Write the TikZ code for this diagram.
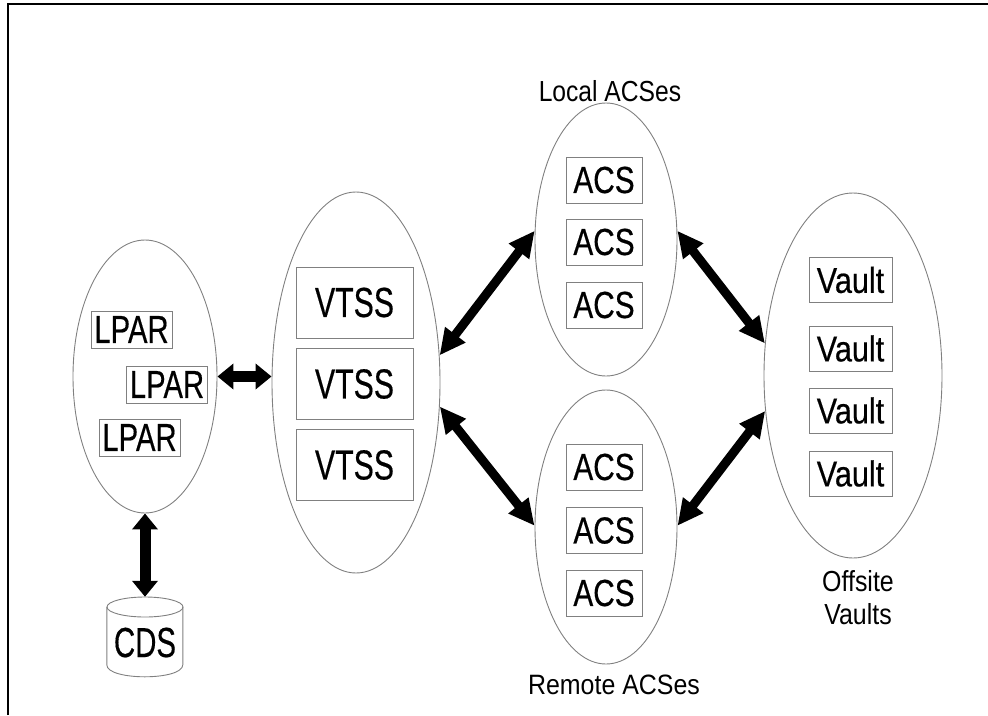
\documentclass[tikz,border=0pt]{standalone}
\usepackage{graphicx}
\usepackage{fontspec}
\setmainfont{Liberation Sans}
\newfontfamily\heavyfont[FakeBold=0.5]{Liberation Sans}
\usetikzlibrary{arrows.meta,shapes.geometric}
\newcommand{\sqtxt}[3]{\scalebox{#2}[1]{\fontsize{#1}{#1}\selectfont #3}}
\newcommand{\sqbox}[3]{\scalebox{#2}[1]{\heavyfont\fontsize{#1}{#1}\selectfont #3}}
\begin{document}
\begin{tikzpicture}[x=1pt,y=-1pt,
  ell/.style={ellipse, draw=gray, line width=0.9pt, inner sep=0pt},
  box/.style={rectangle, draw=gray, line width=0.9pt, inner sep=0pt},
  lparbox/.style={box, minimum width=81pt, minimum height=37pt},
  vtssbox/.style={box, minimum width=117pt, minimum height=71pt},
  acsbox/.style={box, minimum width=76pt, minimum height=46pt},
  vaultbox/.style={box, minimum width=83pt, minimum height=45pt},
  fat/.style={line width=11pt, {Triangle[length=16pt,width=25pt]}-{Triangle[length=16pt,width=25pt]}},
  diag/.style={line width=9pt, {Triangle[length=26pt,width=24pt]}-{Triangle[length=26pt,width=24pt]}},
  lbl/.style={inner sep=0pt}
]
\useasboundingbox (0,0) rectangle (988,715);
% frame
\draw[line width=2pt] (8,715) -- (8,4) -- (988,4);

% ellipses
\node[ell, minimum width=144pt, minimum height=273pt] (lpar) at (145,376.5) {};
\node[ell, minimum width=168pt, minimum height=381pt] (vtss) at (356,382.5) {};
\node[ell, minimum width=142pt, minimum height=273pt] (local) at (606,239.5) {};
\node[ell, minimum width=142pt, minimum height=274pt] (remote) at (606,527) {};
\node[ell, minimum width=178pt, minimum height=365pt] (offsite) at (853,375.5) {};

% LPAR boxes
\node[lparbox] (lp1) at (131.5,329.5) {\sqbox{39}{0.75}{LPAR}};
\node[lparbox] (lp2) at (167,384.5) {\sqbox{39}{0.75}{LPAR}};
\node[lparbox] (lp3) at (139.5,437.5) {\sqbox{39}{0.75}{LPAR}};

% VTSS boxes
\node[vtssbox] (vt1) at (354.5,302.5) {\sqbox{42}{0.72}{VTSS}};
\node[vtssbox] (vt2) at (354.5,384) {\sqbox{42}{0.72}{VTSS}};
\node[vtssbox] (vt3) at (354.5,465) {\sqbox{42}{0.72}{VTSS}};

% local ACS boxes
\node[acsbox] (la1) at (604,180) {\sqbox{37.7}{0.79}{ACS}};
\node[acsbox] (la2) at (604,242) {\sqbox{37.7}{0.79}{ACS}};
\node[acsbox] (la3) at (604,305) {\sqbox{37.7}{0.79}{ACS}};

% remote ACS boxes
\node[acsbox] (ra1) at (604,467) {\sqbox{37.7}{0.79}{ACS}};
\node[acsbox] (ra2) at (604,530.5) {\sqbox{37.7}{0.79}{ACS}};
\node[acsbox] (ra3) at (604,593) {\sqbox{37.7}{0.79}{ACS}};

% vault boxes
\node[vaultbox] (v1) at (850.5,280) {\sqbox{36}{0.85}{Vault}};
\node[vaultbox] (v2) at (850.5,348.5) {\sqbox{36}{0.85}{Vault}};
\node[vaultbox] (v3) at (850.5,410.5) {\sqbox{36}{0.85}{Vault}};
\node[vaultbox] (v4) at (850.5,473.5) {\sqbox{36}{0.85}{Vault}};

% labels
\node[lbl] (lloc) at (610,91) {\sqtxt{29}{0.85}{Local ACSes}};
\node[lbl] (lrem) at (614,685) {\sqtxt{28}{0.89}{Remote ACSes}};
\node[lbl] (loff) at (858,601) {\scalebox{0.86}[1]{\fontsize{29}{33}\selectfont\begin{tabular}{@{}c@{}}Offsite\\Vaults\end{tabular}}};

% CDS cylinder
\node[inner sep=0pt, minimum width=76pt, minimum height=83pt] (cds) at (145,638.5)
  {\raisebox{-3.5pt}[30pt][0pt]{\sqbox{42}{0.70}{CDS}}};
\draw[gray, line width=0.9pt] (cds.north west) ++(0,10) -- ++(0,58)
  .. controls ++(0,16) and ++(0,16) .. ++(76,0) -- ++(0,-58);
\draw[gray, line width=0.9pt] (145,607) ellipse [x radius=38, y radius=10];

% connectors
\draw[fat] (lpar.east) -- (lpar.east -| vtss.west);
\draw[fat] (lpar.south) -- (cds.north);
\draw[diag] (vtss.18) -- (local.173);
\draw[diag] (local.7) -- (offsite.160);
\draw[diag] (vtss.-16) -- (remote.179);
\draw[diag] (remote.1) -- (offsite.-158);
\end{tikzpicture}
\end{document}
